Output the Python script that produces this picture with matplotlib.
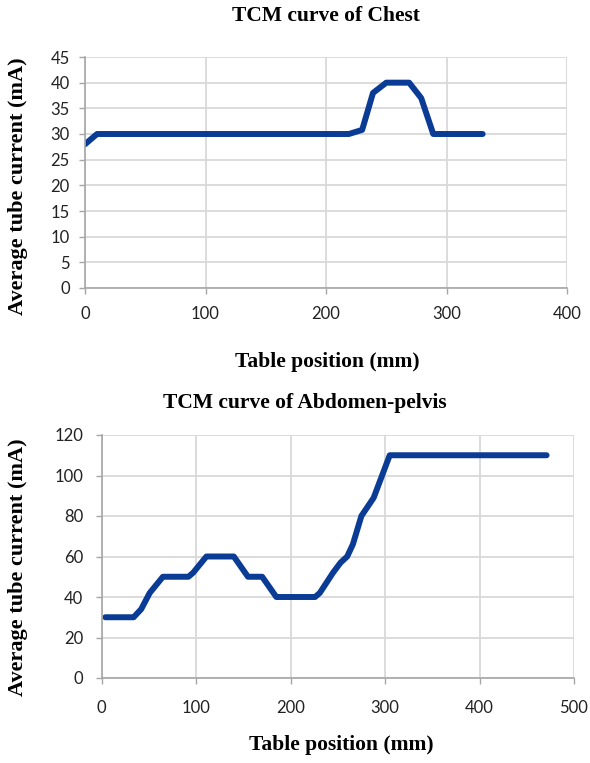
import numpy as np
import matplotlib
matplotlib.use('Agg')
import matplotlib.pyplot as plt

# Chest TCM curve
chest_pos = [0, 10, 219, 230, 239, 250, 269, 279, 289, 330]
chest_ma = [28, 30, 30, 30.8, 38, 40, 40, 37, 30, 30]

# Abdomen-pelvis TCM curve
abd_pos = [4, 34, 42, 51, 65, 92, 97, 111, 140, 155, 170, 185, 226, 231,
           245, 253, 260, 266, 275, 288, 305, 471]
abd_ma = [30, 30, 34, 42, 50, 50, 52, 60, 60, 50, 50, 40, 40, 42,
          52, 57, 60, 66, 80, 89, 110, 110]

line_color = '#0a3c96'
grid_color = '#d9d9d9'
axis_color = '#a6a6a6'
serif = ['Liberation Serif', 'DejaVu Serif']
tickfont = ['Lato', 'DejaVu Sans']

W, H = 590, 763
fig = plt.figure(figsize=(W / 100, H / 100), dpi=100)


def px_axes(left, top, right, bottom):
    return fig.add_axes([left / W, 1 - bottom / H, (right - left) / W, (bottom - top) / H])


def style(ax, xticks, yticks, xpad, ypad):
    ax.set_xticks(xticks)
    ax.set_yticks(yticks)
    ax.set_xlim(xticks[0], xticks[-1])
    ax.set_ylim(yticks[0], yticks[-1])
    ax.grid(True, color=grid_color, linewidth=1.3)
    ax.set_axisbelow(True)
    for s in ['top', 'right']:
        ax.spines[s].set_visible(False)
    for s in ['left', 'bottom']:
        ax.spines[s].set_color(axis_color)
        ax.spines[s].set_linewidth(1.2)
    ax.tick_params(axis='both', direction='out', length=4, width=1.0,
                   color=axis_color, labelsize=12, labelcolor='#222222')
    ax.tick_params(axis='x', pad=xpad)
    ax.tick_params(axis='y', pad=ypad)
    for lab in ax.get_xticklabels() + ax.get_yticklabels():
        lab.set_family(tickfont)


# top chart
ax1 = px_axes(85, 57, 567, 288)
ax1.plot(chest_pos, chest_ma, color=line_color, linewidth=4.3, solid_capstyle='round')
style(ax1, [0, 100, 200, 300, 400], list(range(0, 50, 5)), 9, 7)
fig.text(326 / W, 1 - 16 / H, 'TCM curve of Chest', family=serif, weight='bold',
         fontsize=15.5, ha='center', va='center')
fig.text(327 / W, 1 - 362 / H, 'Table position (mm)', family=serif, weight='bold',
         fontsize=15.5, ha='center', va='center')
fig.text(18 / W, 1 - 186 / H, 'Average tube current (mA)', family=serif, weight='bold',
         fontsize=16, ha='center', va='center', rotation=90)

# bottom chart
ax2 = px_axes(101.5, 435, 574, 678)
ax2.plot(abd_pos, abd_ma, color=line_color, linewidth=4.3, solid_capstyle='round')
style(ax2, [0, 100, 200, 300, 400, 500], list(range(0, 140, 20)), 12, 9)
fig.text(305 / W, 1 - 403 / H, 'TCM curve of Abdomen-pelvis', family=serif, weight='bold',
         fontsize=15.5, ha='center', va='center')
fig.text(341 / W, 1 - 745 / H, 'Table position (mm)', family=serif, weight='bold',
         fontsize=15.5, ha='center', va='center')
fig.text(18 / W, 1 - 567 / H, 'Average tube current (mA)', family=serif, weight='bold',
         fontsize=16, ha='center', va='center', rotation=90)

fig.savefig('out.png', dpi=100, facecolor='white')
